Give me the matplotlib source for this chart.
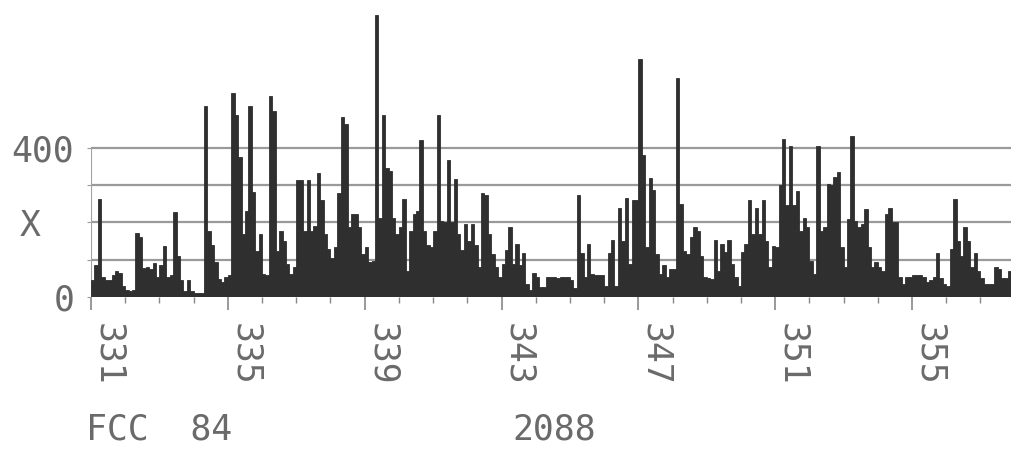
import numpy as np
import matplotlib
matplotlib.use('Agg')
import matplotlib.pyplot as plt
from matplotlib.ticker import MultipleLocator

# valores por intervalo de 0.1, un bloque por cada 4 unidades
seg_331 = [45, 85, 262, 55, 45, 45, 60, 70, 65, 30,
           20, 15, 18, 173, 160, 78, 80, 75, 90, 55,
           85, 138, 55, 60, 228, 110, 45, 15, 45, 15,
           12, 12, 12, 513, 178, 140, 95, 48, 40, 55]
seg_335 = [60, 548, 489, 376, 170, 232, 513, 282, 124, 170,
           62, 60, 540, 498, 124, 178, 150, 89, 62, 80,
           315, 315, 178, 315, 178, 190, 333, 260, 170, 130,
           104, 133, 280, 483, 465, 189, 224, 224, 189, 115]
seg_339 = [133, 95, 97, 757, 213, 489, 345, 339, 213, 170,
           189, 264, 71, 178, 224, 230, 420, 178, 140, 133,
           178, 489, 205, 200, 367, 200, 316, 170, 127, 197,
           150, 197, 140, 80, 280, 275, 170, 115, 80, 55]
seg_343 = [89, 127, 189, 89, 143, 85, 117, 35, 20, 65,
           55, 28, 28, 55, 55, 55, 50, 55, 55, 55,
           45, 25, 275, 117, 55, 143, 62, 60, 60, 60,
           30, 117, 154, 30, 240, 150, 265, 89, 260, 260]
seg_347 = [640, 380, 133, 318, 286, 115, 62, 85, 55, 75,
           75, 589, 250, 124, 115, 160, 189, 178, 110, 55,
           50, 48, 154, 71, 143, 120, 154, 89, 55, 30,
           120, 143, 260, 170, 240, 170, 260, 150, 80, 138]
seg_351 = [133, 300, 424, 246, 405, 246, 284, 178, 213, 189,
           97, 62, 405, 178, 189, 302, 300, 322, 336, 133,
           80, 210, 432, 205, 189, 195, 235, 133, 80, 93,
           80, 71, 224, 240, 200, 200, 55, 35, 55, 55]
seg_355 = [60, 60, 58, 55, 40, 45, 55, 118, 50, 35,
           30, 130, 262, 150, 110, 189, 150, 80, 118, 71,
           50, 35, 35, 35, 80, 75, 50, 50, 71]

valores = np.array(seg_331 + seg_335 + seg_339 + seg_343 + seg_347 + seg_351 + seg_355)
paso = 0.1
x0 = 331
xs = x0 + paso * np.arange(len(valores))

etiquetas_x = [331, 335, 339, 343, 347, 351, 355]
grid_y = [0, 100, 200, 300, 400]

gris = '#6a6a6a'
fuente = 'DejaVu Sans Mono'

fig = plt.figure(figsize=(10.12, 4.54), dpi=100)
ax = fig.add_axes([91 / 1012, 157 / 454, 1 - 91 / 1012, 297 / 454])

ax.bar(xs, valores, width=paso, align='edge', color='#2f2f2f',
       edgecolor='#2f2f2f', linewidth=0.6, zorder=3)

ax.set_xlim(x0, x0 + 921 / 34.21)
ax.set_ylim(0, 797)

for s in ax.spines.values():
    s.set_visible(False)
ax.vlines(x0, 0, 400, color='#a0a0a0', linewidth=1.5, zorder=2)

ax.set_yticks(grid_y)
ax.set_yticklabels(['0', '', '', '', '400'], fontfamily=fuente,
                   fontsize=25, color=gris)
ax.yaxis.grid(True, color='#9a9a9a', linewidth=1.6, zorder=1)
ax.tick_params(axis='y', length=3, color='#9a9a9a', pad=9)

ax.set_xticks(etiquetas_x)
ax.set_xticklabels([str(v) for v in etiquetas_x], rotation=270, ha='left',
                   fontfamily=fuente, fontsize=25, color=gris)
ax.xaxis.set_minor_locator(MultipleLocator(1))
ax.tick_params(axis='x', which='major', length=9, width=1.2, color='#888888',
               pad=10, direction='out')
ax.tick_params(axis='x', which='minor', length=4, width=1.0, color='#888888',
               direction='out')

fig.text(20 / 1012, 1 - 226 / 454, 'X', fontfamily=fuente, fontsize=25,
         color=gris, va='center', ha='left')
fig.text(86 / 1012, 1 - 430 / 454, 'FCC  84', fontfamily=fuente, fontsize=25,
         color=gris, va='center', ha='left')
fig.text(512 / 1012, 1 - 430 / 454, '2088', fontfamily=fuente, fontsize=25,
         color=gris, va='center', ha='left')

plt.savefig('out.png', dpi=100)
